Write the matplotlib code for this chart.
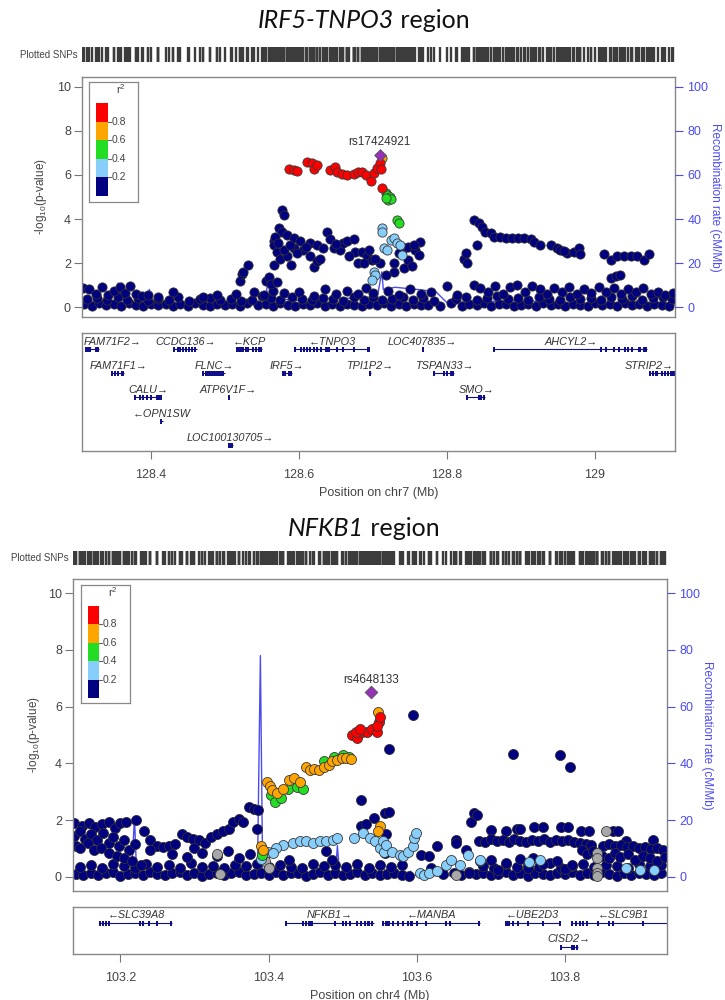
import matplotlib.pyplot as plt
from matplotlib.patches import Rectangle
import numpy as np

plt.rcParams['font.family'] = ['Liberation Sans', 'DejaVu Sans']
plt.rcParams['mathtext.fontset'] = 'custom'
plt.rcParams['mathtext.rm'] = 'Liberation Sans'
plt.rcParams['mathtext.it'] = 'Liberation Sans:italic'

W, H = 725, 1000

NAVY = '#000080'
LBLUE = '#87CEFA'
GREEN = '#22DD22'
ORANGE = '#FFA500'
RED = '#FF0000'
GRAY = '#A8A8A8'
LEAD = '#9632B8'
BLUE = '#4B4BF0'
GENE = '#10108A'
TXT = '#444444'

# ---------------- IRF5-TNPO3 (chr7) ----------------
top_xlim = (128.307, 129.108)

top_base = [
    (128.310, 0.12), (128.320, 0.05), (128.330, 0.18), (128.340, 0.08), (128.350, 0.15),
    (128.360, 0.04), (128.370, 0.20), (128.380, 0.10), (128.390, 0.06), (128.400, 0.16),
    (128.410, 0.09), (128.420, 0.14), (128.430, 0.03), (128.440, 0.12), (128.450, 0.07),
    (128.460, 0.19), (128.470, 0.10), (128.480, 0.05), (128.490, 0.15), (128.500, 0.08),
    (128.510, 0.12), (128.520, 0.04), (128.530, 0.17), (128.545, 0.09), (128.555, 0.13),
    (128.565, 0.06), (128.575, 0.20), (128.585, 0.10), (128.595, 0.05), (128.605, 0.15),
    (128.615, 0.08), (128.625, 0.18), (128.635, 0.04), (128.645, 0.12), (128.655, 0.07),
    (128.665, 0.16), (128.675, 0.10), (128.685, 0.05), (128.695, 0.14), (128.705, 0.09),
    (128.715, 0.19), (128.725, 0.06), (128.735, 0.12), (128.745, 0.03), (128.755, 0.15),
    (128.765, 0.08), (128.775, 0.11), (128.790, 0.06), (128.805, 0.17), (128.820, 0.04),
    (128.830, 0.13), (128.840, 0.09), (128.850, 0.18), (128.860, 0.05), (128.870, 0.12),
    (128.880, 0.16), (128.890, 0.07), (128.900, 0.10), (128.910, 0.14), (128.920, 0.04),
    (128.930, 0.19), (128.940, 0.08), (128.950, 0.12), (128.960, 0.06), (128.970, 0.15),
    (128.980, 0.10), (128.990, 0.03), (129.000, 0.17), (129.010, 0.09), (129.020, 0.13),
    (129.030, 0.05), (129.040, 0.18), (129.050, 0.08), (129.060, 0.12), (129.070, 0.06),
    (129.080, 0.15), (129.090, 0.10), (129.100, 0.04),
    (128.314, 0.35), (128.327, 0.42), (128.341, 0.30), (128.355, 0.48), (128.368, 0.33),
    (128.382, 0.40), (128.396, 0.27), (128.410, 0.38), (128.424, 0.31), (128.437, 0.45),
    (128.452, 0.28), (128.466, 0.36), (128.480, 0.43), (128.494, 0.30), (128.508, 0.38),
    (128.522, 0.26), (128.536, 0.34), (128.550, 0.50), (128.562, 0.40), (128.575, 0.32),
    (128.590, 0.46), (128.604, 0.35), (128.618, 0.30), (128.632, 0.42), (128.646, 0.37),
    (128.660, 0.28), (128.674, 0.44), (128.688, 0.33), (128.700, 0.48), (128.712, 0.30),
    (128.726, 0.38), (128.740, 0.45), (128.754, 0.32), (128.768, 0.40), (128.782, 0.28),
    (128.812, 0.36), (128.826, 0.47), (128.840, 0.33), (128.854, 0.41), (128.868, 0.50),
    (128.882, 0.35), (128.896, 0.43), (128.910, 0.30), (128.924, 0.46), (128.938, 0.38),
    (128.952, 0.32), (128.966, 0.48), (128.980, 0.36), (128.994, 0.42), (129.008, 0.30),
    (129.022, 0.45), (129.036, 0.37), (129.050, 0.50), (129.064, 0.33), (129.078, 0.40),
    (129.092, 0.46), (129.104, 0.35),
    (128.309, 0.85), (128.317, 0.82), (128.326, 0.60), (128.334, 0.90), (128.342, 0.55),
    (128.350, 0.72), (128.358, 0.92), (128.365, 0.65), (128.372, 0.95), (128.380, 0.60),
    (128.388, 0.50), (128.396, 0.55), (128.410, 0.45), (128.430, 0.70), (128.470, 0.45),
    (128.490, 0.55), (128.515, 0.60), (128.540, 0.70), (128.553, 0.55), (128.565, 0.75),
    (128.580, 0.65), (128.600, 0.70), (128.620, 0.50), (128.635, 0.80), (128.650, 0.60),
    (128.665, 0.75), (128.680, 0.60), (128.690, 0.85), (128.700, 0.65), (128.720, 0.75),
    (128.735, 0.55), (128.750, 0.80), (128.765, 0.60), (128.778, 0.70), (128.800, 0.95),
    (128.814, 0.55), (128.836, 1.00), (128.845, 0.85), (128.855, 0.70), (128.865, 0.95),
    (128.875, 0.60), (128.885, 0.90), (128.895, 1.00), (128.905, 0.70), (128.915, 0.95),
    (128.925, 0.80), (128.935, 0.60), (128.945, 0.85), (128.955, 0.70), (128.965, 0.90),
    (128.975, 0.60), (128.985, 0.80), (128.995, 0.65), (129.005, 0.90), (129.015, 0.70),
    (129.025, 0.85), (129.035, 0.60), (129.045, 0.80), (129.055, 0.70), (129.065, 0.85),
    (129.075, 0.60), (129.085, 0.70), (129.095, 0.55), (129.105, 0.65),
]

top_navy = [
    (128.5205, 1.2), (128.523, 1.5), (128.524, 1.6), (128.531, 1.9), (128.556, 1.2),
    (128.559, 1.38), (128.562, 1.07), (128.570, 1.15), (128.567, 1.9), (128.577, 4.4),
    (128.580, 4.18), (128.573, 3.57), (128.577, 3.42), (128.566, 3.0), (128.566, 2.8),
    (128.570, 2.5), (128.575, 2.2), (128.584, 2.3), (128.589, 1.9), (128.584, 3.27),
    (128.593, 3.12), (128.602, 3.0), (128.593, 2.7), (128.606, 2.6), (128.615, 2.3),
    (128.620, 1.84), (128.624, 2.1), (128.629, 2.2), (128.615, 2.9), (128.624, 2.8),
    (128.633, 2.7), (128.638, 3.42), (128.642, 3.1), (128.647, 2.7), (128.656, 2.6),
    (128.660, 2.9), (128.665, 3.0), (128.674, 3.1), (128.676, 2.5), (128.680, 2.0),
    (128.568, 3.2), (128.572, 2.9), (128.580, 2.6), (128.588, 2.8), (128.597, 2.45),
    (128.610, 2.75), (128.650, 2.85), (128.668, 2.3),
    (128.685, 2.5), (128.692, 2.3), (128.699, 2.14), (128.688, 2.0), (128.710, 1.99),
    (128.728, 1.6), (128.742, 1.76), (128.748, 2.14), (128.753, 1.85), (128.742, 2.67),
    (128.748, 2.74), (128.757, 2.6), (128.762, 2.36), (128.764, 2.97), (128.755, 2.8),
    (128.717, 1.45), (128.728, 2.0), (128.695, 2.6), (128.703, 2.2), (128.735, 2.45),
    (128.823, 2.2), (128.827, 1.99), (128.826, 2.45),
    (128.836, 3.95), (128.843, 3.8), (128.847, 3.65), (128.841, 2.8), (128.852, 3.42),
    (128.859, 3.35), (128.863, 3.2), (128.872, 3.2), (128.880, 3.15), (128.888, 3.15),
    (128.896, 3.15), (128.904, 3.15), (128.913, 3.1), (128.917, 2.97), (128.926, 2.8),
    (128.940, 2.8), (128.949, 2.7), (128.953, 2.6), (128.962, 2.45), (128.971, 2.5),
    (128.978, 2.67), (128.980, 2.4), (128.958, 2.55),
    (129.012, 2.4), (129.021, 2.14), (129.030, 2.3), (129.039, 2.3), (129.048, 2.3),
    (129.057, 2.3), (129.066, 2.14), (129.073, 2.4), (129.021, 1.31), (129.028, 1.4),
    (129.034, 1.45),
]

top_lblue = [
    (128.712, 3.58), (128.712, 3.43), (128.715, 2.67), (128.719, 2.59), (128.724, 3.05),
    (128.728, 3.12), (128.733, 2.9), (128.737, 2.82), (128.739, 2.36), (128.701, 1.6),
    (128.703, 1.45), (128.699, 1.22),
]
top_green = [
    (128.717, 5.17), (128.719, 5.09), (128.723, 5.01), (128.721, 4.86), (128.724, 4.91),
    (128.718, 4.94), (128.733, 3.95), (128.735, 3.8),
]
top_orange = [(128.712, 6.75)]
top_red = [
    (128.586, 6.27), (128.593, 6.23), (128.598, 6.18), (128.611, 6.61), (128.617, 6.53),
    (128.620, 6.27), (128.624, 6.45), (128.642, 6.23), (128.649, 6.38), (128.651, 6.12),
    (128.658, 6.03), (128.665, 6.0), (128.674, 6.03), (128.680, 6.12), (128.685, 6.15),
    (128.690, 6.0), (128.697, 5.73), (128.701, 6.07), (128.706, 6.3), (128.709, 6.53),
    (128.711, 6.27), (128.712, 5.4),
]
top_lead = (128.709, 6.91)
top_lead_name = 'rs17424921'

top_recomb = [
    (128.307, 2), (128.330, 3), (128.350, 2), (128.356, 11), (128.358, 5), (128.361, 11),
    (128.364, 2), (128.390, 2), (128.398, 8), (128.402, 2), (128.450, 1), (128.500, 1.5),
    (128.555, 2), (128.558, 13), (128.562, 4), (128.600, 3), (128.640, 4), (128.680, 4),
    (128.705, 3), (128.712, 16), (128.714, 8), (128.730, 9), (128.760, 8), (128.785, 7),
    (128.800, 2), (128.850, 2.5), (128.900, 3), (128.950, 2), (129.000, 1.5), (129.050, 1),
    (129.108, 1),
]

top_gene_names = ['FAM71F2', 'CCDC136', 'KCP', 'TNPO3', 'LOC407835', 'AHCYL2',
                  'FAM71F1', 'FLNC', 'IRF5', 'TPI1P2', 'TSPAN33', 'STRIP2',
                  'CALU', 'ATP6V1F', 'SMO', 'OPN1SW', 'LOC100130705']
top_gene_start = [128.312, 128.431, 128.516, 128.594, 128.766, 128.864,
                  128.348, 128.471, 128.578, 128.695, 128.783, 129.073,
                  128.379, 128.504, 128.827, 128.413, 128.504]
top_gene_end = [128.330, 128.462, 128.550, 128.695, 128.768, 129.070,
                128.364, 128.500, 128.590, 128.697, 128.809, 129.110,
                128.414, 128.506, 128.852, 128.416, 128.511]
top_gene_strand = [1, 1, -1, -1, 1, 1, 1, 1, 1, 1, 1, 1, 1, 1, 1, -1, 1]
top_gene_row = [0, 0, 0, 0, 0, 0, 1, 1, 1, 1, 1, 1, 2, 2, 2, 3, 4]
top_exons = {
    'FAM71F2': [128.312, 128.315, 128.318, 128.326, 128.329],
    'CCDC136': [128.431, 128.437, 128.440, 128.444, 128.447, 128.451, 128.455, 128.460],
    'KCP': [128.516, 128.519, 128.522, 128.525, 128.528, 128.531, 128.538, 128.542, 128.546, 128.549],
    'TNPO3': [128.595, 128.603, 128.607, 128.611, 128.615, 128.620, 128.625, 128.630, 128.636,
              128.640, 128.652, 128.660, 128.675, 128.694],
    'LOC407835': [128.767],
    'AHCYL2': [128.864, 129.008, 129.015, 129.025, 129.032, 129.040, 129.045, 129.050, 129.060,
               129.066, 129.069],
    'FAM71F1': [128.348, 128.352, 128.356, 128.361, 128.363],
    'FLNC': [128.471, 128.474, 128.477, 128.480, 128.483, 128.486, 128.489, 128.492, 128.495, 128.498],
    'IRF5': [128.578, 128.581, 128.586, 128.589],
    'TPI1P2': [128.696],
    'TSPAN33': [128.783, 128.796, 128.800, 128.806, 128.808],
    'STRIP2': [129.074, 129.078, 129.083, 129.090, 129.094, 129.098, 129.102, 129.106],
    'CALU': [128.379, 128.385, 128.390, 128.395, 128.400, 128.409, 128.413],
    'ATP6V1F': [128.505],
    'SMO': [128.827, 128.843, 128.846, 128.850],
    'OPN1SW': [128.414],
    'LOC100130705': [128.505, 128.508, 128.510],
}
top_xticks = [128.4, 128.6, 128.8, 129.0]
top_xticklabels = ['128.4', '128.6', '128.8', '129']

# ---------------- NFKB1 (chr4) ----------------
bot_xlim = (103.136, 103.938)

bot_base = [
    (103.140, 0.10), (103.150, 0.05), (103.160, 0.15), (103.170, 0.08), (103.180, 0.12),
    (103.190, 0.18), (103.200, 0.04), (103.210, 0.10), (103.220, 0.14), (103.230, 0.07),
    (103.240, 0.16), (103.250, 0.09), (103.260, 0.05), (103.270, 0.12), (103.280, 0.18),
    (103.290, 0.08), (103.300, 0.13), (103.310, 0.04), (103.320, 0.10), (103.330, 0.15),
    (103.340, 0.07), (103.350, 0.12), (103.360, 0.17), (103.370, 0.05), (103.380, 0.10),
    (103.390, 0.14), (103.400, 0.08), (103.410, 0.18), (103.420, 0.06), (103.430, 0.12),
    (103.440, 0.15), (103.450, 0.04), (103.460, 0.10), (103.470, 0.16), (103.480, 0.08),
    (103.490, 0.13), (103.500, 0.05), (103.510, 0.11), (103.520, 0.17), (103.530, 0.07),
    (103.540, 0.12), (103.550, 0.05), (103.560, 0.10), (103.570, 0.15), (103.580, 0.08),
    (103.590, 0.04), (103.650, 0.12), (103.660, 0.06), (103.670, 0.16), (103.680, 0.09),
    (103.690, 0.13), (103.700, 0.05), (103.710, 0.10), (103.720, 0.17), (103.730, 0.08),
    (103.740, 0.12), (103.750, 0.04), (103.760, 0.15), (103.770, 0.10), (103.780, 0.06),
    (103.790, 0.14), (103.800, 0.09), (103.810, 0.18), (103.820, 0.05), (103.830, 0.12),
    (103.840, 0.08), (103.850, 0.16), (103.860, 0.10), (103.870, 0.04), (103.880, 0.13),
    (103.890, 0.07), (103.900, 0.15), (103.910, 0.10), (103.920, 0.05), (103.930, 0.12),
    (103.145, 0.35), (103.160, 0.42), (103.175, 0.30), (103.190, 0.46), (103.205, 0.38),
    (103.220, 0.32), (103.235, 0.44), (103.250, 0.36), (103.265, 0.40), (103.280, 0.30),
    (103.295, 0.47), (103.310, 0.34), (103.325, 0.39), (103.340, 0.31), (103.355, 0.43),
    (103.370, 0.37), (103.385, 0.45), (103.400, 0.33), (103.415, 0.40), (103.430, 0.36),
    (103.445, 0.30), (103.460, 0.44), (103.475, 0.38), (103.490, 0.42), (103.505, 0.34),
    (103.520, 0.46), (103.535, 0.32), (103.550, 0.40), (103.565, 0.35), (103.580, 0.43),
    (103.690, 0.38), (103.705, 0.31), (103.720, 0.45), (103.735, 0.36), (103.750, 0.41),
    (103.765, 0.33), (103.780, 0.47), (103.795, 0.30), (103.810, 0.39), (103.825, 0.44),
    (103.840, 0.35), (103.855, 0.42), (103.870, 0.37), (103.885, 0.32), (103.900, 0.46),
    (103.915, 0.38), (103.930, 0.40),
]

bot_navy = [
    (103.138, 1.88), (103.148, 1.80), (103.158, 1.90), (103.166, 1.75), (103.175, 1.85),
    (103.185, 1.92), (103.193, 1.72), (103.200, 1.88), (103.207, 1.95), (103.221, 2.00),
    (103.138, 1.45), (103.145, 1.60), (103.152, 1.35), (103.160, 1.50), (103.168, 1.30),
    (103.176, 1.55), (103.184, 1.20), (103.190, 1.40), (103.198, 1.10), (103.205, 1.30),
    (103.212, 0.95), (103.220, 1.15),
    (103.140, 1.10), (103.146, 1.00), (103.156, 1.20), (103.165, 0.95), (103.174, 1.00),
    (103.185, 0.85), (103.195, 0.75), (103.205, 0.65), (103.215, 0.55), (103.228, 0.40),
    (103.232, 1.60), (103.240, 1.30), (103.250, 1.10), (103.258, 1.05), (103.266, 1.10),
    (103.274, 1.15), (103.283, 1.50), (103.290, 1.40), (103.298, 1.35), (103.306, 1.30),
    (103.314, 1.20), (103.322, 1.40), (103.330, 1.50), (103.338, 1.60), (103.346, 1.70),
    (103.352, 1.95), (103.360, 2.05), (103.366, 1.95), (103.374, 2.45), (103.380, 2.40),
    (103.386, 2.35), (103.385, 1.70),
    (103.270, 0.80), (103.290, 0.70), (103.310, 0.85), (103.330, 0.75), (103.345, 0.90),
    (103.360, 0.65), (103.375, 0.80), (103.240, 0.95), (103.300, 1.00),
    (103.428, 0.60), (103.478, 0.90), (103.486, 0.60), (103.525, 2.70), (103.525, 1.80),
    (103.532, 1.85), (103.543, 2.07), (103.557, 2.24),
    (103.563, 4.52), (103.563, 2.29), (103.558, 1.50), (103.557, 0.83), (103.595, 5.70),
    (103.606, 0.78), (103.617, 0.72), (103.628, 1.07), (103.653, 1.30), (103.653, 1.18),
    (103.667, 0.95), (103.673, 1.94), (103.678, 2.24), (103.682, 2.18),
    (103.700, 1.65), (103.721, 1.60), (103.735, 1.68), (103.740, 1.68), (103.759, 1.77),
    (103.770, 1.77), (103.795, 1.77), (103.804, 1.77), (103.822, 1.60), (103.833, 1.60),
    (103.865, 1.60), (103.872, 1.60), (103.883, 1.25), (103.919, 1.30),
    (103.730, 4.33), (103.793, 4.30), (103.807, 3.86),
    (103.684, 1.28), (103.692, 1.22), (103.700, 1.32), (103.708, 1.25), (103.716, 1.30),
    (103.724, 1.22), (103.732, 1.34), (103.740, 1.27), (103.748, 1.23), (103.756, 1.30),
    (103.764, 1.26), (103.772, 1.33), (103.780, 1.22), (103.788, 1.29), (103.796, 1.25),
    (103.804, 1.31), (103.812, 1.24), (103.820, 1.20), (103.828, 1.16), (103.836, 1.12),
    (103.852, 1.08), (103.860, 1.14), (103.868, 1.10), (103.876, 1.12), (103.884, 1.06),
    (103.892, 1.10), (103.900, 1.00), (103.908, 1.05), (103.916, 0.98), (103.924, 1.02),
    (103.932, 0.95),
    (103.823, 0.95), (103.830, 0.80), (103.838, 0.90), (103.850, 0.75), (103.860, 0.65),
    (103.868, 0.85), (103.875, 0.70), (103.885, 0.80), (103.895, 0.60), (103.905, 0.75),
    (103.915, 0.65), (103.925, 0.55), (103.935, 0.70),
    (103.685, 0.55), (103.700, 0.60), (103.710, 0.25), (103.720, 0.50), (103.740, 0.62),
    (103.750, 0.30), (103.757, 0.68), (103.770, 0.45), (103.790, 0.55), (103.800, 0.28),
    (103.810, 0.42), (103.620, 0.30), (103.635, 0.10), (103.670, 0.15),
]

bot_gray = [
    (103.844, 0.85), (103.844, 0.65), (103.844, 0.30), (103.844, 0.15), (103.844, 0.02),
    (103.856, 1.60), (103.653, 0.05), (103.330, 0.80), (103.335, 0.10), (103.395, 0.55),
    (103.400, 0.30),
]
bot_lblue = [
    (103.390, 0.62), (103.399, 0.89), (103.420, 1.13), (103.433, 1.19), (103.442, 1.25),
    (103.451, 1.25), (103.460, 1.19), (103.469, 1.25), (103.478, 1.25), (103.487, 1.31),
    (103.492, 1.36), (103.410, 1.00), (103.406, 0.83), (103.515, 1.36), (103.528, 1.53),
    (103.537, 1.36), (103.544, 1.25), (103.551, 1.00), (103.556, 0.89),
    (103.554, 1.25), (103.558, 1.13), (103.567, 0.89), (103.577, 0.78), (103.581, 0.72),
    (103.588, 0.89), (103.595, 1.07), (103.597, 1.36), (103.599, 1.53), (103.604, 0.13),
    (103.610, 0.07), (103.617, 0.13), (103.628, 0.19), (103.640, 0.42), (103.646, 0.60),
    (103.658, 0.42), (103.669, 0.78), (103.685, 0.60), (103.752, 0.54), (103.766, 0.60),
    (103.883, 0.31), (103.901, 0.25), (103.921, 0.25),
]
bot_green = [
    (103.403, 2.88), (103.409, 2.65), (103.417, 2.77), (103.426, 3.11), (103.438, 3.17),
    (103.446, 3.11), (103.475, 4.09), (103.489, 4.24), (103.500, 4.30), (103.509, 4.24),
    (103.391, 0.78),
]
bot_orange = [
    (103.3985, 3.36), (103.4016, 3.21), (103.405, 3.06), (103.412, 2.94), (103.420, 3.11),
    (103.428, 3.41), (103.434, 3.47), (103.443, 3.36), (103.450, 3.86), (103.456, 3.78),
    (103.461, 3.81), (103.468, 3.78), (103.475, 3.86), (103.482, 3.95), (103.486, 4.07),
    (103.493, 4.13), (103.499, 4.19), (103.505, 4.20), (103.512, 4.16), (103.548, 5.80),
    (103.390, 1.10), (103.393, 0.95), (103.550, 1.80), (103.548, 1.60),
]
bot_red = [
    (103.513, 5.00), (103.520, 4.90), (103.526, 5.12), (103.533, 5.10), (103.540, 5.21),
    (103.546, 5.12), (103.549, 5.46), (103.550, 5.64), (103.547, 5.30), (103.518, 5.12),
    (103.524, 5.22),
]
bot_lead = (103.538, 6.5)
bot_lead_name = 'rs4648133'

bot_recomb = [
    (103.136, 0.5), (103.180, 0.8), (103.215, 0.5), (103.219, 21), (103.222, 0.5),
    (103.300, 0.3), (103.385, 0.5), (103.389, 78), (103.392, 2), (103.420, 0.5),
    (103.490, 0.5), (103.493, 11), (103.496, 0.5), (103.548, 0.5), (103.549, 3),
    (103.556, 3), (103.557, 0.5), (103.590, 0.5), (103.592, 2), (103.594, 0.5),
    (103.700, 0.3), (103.800, 0.3), (103.938, 0.3),
]

bot_gene_names = ['SLC39A8', 'NFKB1', 'MANBA', 'UBE2D3', 'SLC9B1', 'CISD2']
bot_gene_start = [103.173, 103.424, 103.554, 103.719, 103.809, 103.794]
bot_gene_end = [103.269, 103.542, 103.685, 103.794, 103.950, 103.818]
bot_gene_strand = [-1, 1, -1, -1, -1, 1]
bot_gene_row = [0, 0, 0, 0, 0, 1]
bot_exons = {
    'SLC39A8': [103.173, 103.177, 103.181, 103.185, 103.226, 103.230, 103.238, 103.250, 103.268],
    'NFKB1': [103.424, 103.447, 103.450, 103.455, 103.458, 103.490, 103.500, 103.505, 103.510,
              103.520, 103.525, 103.530, 103.535, 103.540],
    'MANBA': [103.555, 103.558, 103.562, 103.568, 103.575, 103.582, 103.588, 103.593, 103.600,
              103.612, 103.640, 103.645, 103.684],
    'UBE2D3': [103.720, 103.722, 103.725, 103.730, 103.737, 103.750, 103.770, 103.793],
    'SLC9B1': [103.810, 103.815, 103.820, 103.825, 103.830, 103.845, 103.860, 103.865, 103.905],
    'CISD2': [103.795, 103.810, 103.813, 103.816],
}
bot_xticks = [103.2, 103.4, 103.6, 103.8]
bot_xticklabels = ['103.2', '103.4', '103.6', '103.8']

r2_colors = [NAVY, LBLUE, GREEN, ORANGE, RED]
r2_labels = ['0.2', '0.4', '0.6', '0.8']

fig = plt.figure(figsize=(W / 100, H / 100), dpi=100)


def px_axes(l, t, r, b):
    return fig.add_axes([l / W, 1 - b / H, (r - l) / W, (b - t) / H])


def xy(pairs):
    a = np.array(pairs, dtype=float)
    return a[:, 0], a[:, 1]


def title(yc, ital, rest):
    t1 = fig.text(0, 1 - yc / H, ital, fontstyle='italic', fontsize=18,
                  family=['Lato', 'DejaVu Sans'], va='center', color='#111111')
    t2 = fig.text(0, 1 - yc / H, rest, fontsize=18,
                  family=['Lato', 'DejaVu Sans'], va='center', color='#111111')
    fig.canvas.draw()
    r = fig.canvas.get_renderer()
    w1 = t1.get_window_extent(r).width
    w2 = t2.get_window_extent(r).width
    x0 = 364 - (w1 + w2) / 2
    t1.set_x(x0 / W)
    t2.set_x((x0 + w1) / W)


def snp_bar(l, r, t, b, xlim, groups):
    ax = px_axes(l, t, r, b)
    pos = np.concatenate([xy(g)[0] for g in groups])
    ax.vlines(pos, 0, 1, color='#3c3c3c', lw=1.7)
    ax.set_xlim(xlim)
    ax.set_ylim(0, 1)
    ax.axis('off')
    fig.text((l - 4) / W, 1 - (t + b) / 2 / H, 'Plotted SNPs', ha='right', va='center',
             fontsize=7, color=TXT)


def legend(l, t, r, b, bl, br, bt, bb):
    ax = px_axes(l, t, r, b)
    ax.set_xlim(l, r)
    ax.set_ylim(b, t)
    ax.set_xticks([])
    ax.set_yticks([])
    for s in ax.spines.values():
        s.set_color('#888888')
        s.set_linewidth(0.9)
    h = (bb - bt) / 5
    for i, c in enumerate(r2_colors):
        ax.add_patch(Rectangle((bl, bb - (i + 1) * h), br - bl, h, color=c, lw=0))
    for k, lab in enumerate(r2_labels[::-1]):
        yy = bt + (k + 1) * h
        ax.plot([br, br + 3], [yy, yy], color='#666666', lw=0.8)
        ax.text(br + 4, yy, lab, ha='left', va='center', fontsize=7.5, color=TXT)
    ax.text((bl + r) / 2 + 4, t + 7, 'r$^2$', ha='center', va='center', fontsize=8, color=TXT)


def main_panel(box, xlim, ylim, base, groups, lead, lead_name, recomb, ms, ylab_pad):
    ax = px_axes(*box)
    ax.set_xlim(xlim)
    ax.set_ylim(ylim)
    rp, rr = xy(recomb)
    ax.plot(rp, rr / 10.0, color=BLUE, lw=1.0, zorder=1)
    bx, by = xy(base)
    ax.scatter(bx, by, s=ms, c=NAVY, edgecolors='#303030', linewidths=0.6, zorder=2)
    for color, pairs in groups:
        px, py = xy(pairs)
        ax.scatter(px, py, s=ms, c=color, edgecolors='#3a3a3a', linewidths=0.6, zorder=3)
    ax.scatter([lead[0]], [lead[1]], marker='D', s=ms * 0.8, c=LEAD,
               edgecolors='#555555', linewidths=0.6, zorder=4)
    ax.annotate(lead_name, lead, xytext=(0, 9), textcoords='offset points',
                ha='center', va='center', fontsize=8.5, color='#333333')
    for s in ax.spines.values():
        s.set_color('#888888')
        s.set_linewidth(1.0)
    ax.set_xticks([])
    ax.set_yticks([0, 2, 4, 6, 8, 10])
    ax.tick_params(axis='y', length=6, width=0.8, color='#777777', labelcolor=TXT,
                   labelsize=9, pad=2)
    ax.set_ylabel(r'-log$_{10}$(p-value)', fontsize=8.5, color=TXT, labelpad=ylab_pad)
    ax2 = ax.twinx()
    ax2.set_ylim(ylim[0] * 10, ylim[1] * 10)
    ax2.set_yticks([0, 20, 40, 60, 80, 100])
    for s in ax2.spines.values():
        s.set_visible(False)
    ax2.tick_params(axis='y', length=6, width=0.8, color=BLUE, labelcolor=BLUE,
                    labelsize=9, pad=3)
    ax2.set_ylabel('Recombination rate (cM/Mb)', rotation=270, color=BLUE,
                   fontsize=8.5, labelpad=9)
    return ax


def gene_panel(box, xlim, names, starts, ends, strands, rows, exons, xticks, xticklabels, xlabel):
    ax = px_axes(*box)
    ax.set_xlim(xlim)
    ax.set_ylim(box[3] - box[1], 0)
    for s in ax.spines.values():
        s.set_color('#888888')
        s.set_linewidth(1.0)
    ax.set_yticks([])
    ax.set_xticks(xticks)
    ax.set_xticklabels(xticklabels)
    ax.tick_params(axis='x', length=6, width=0.8, color='#777777', labelcolor=TXT,
                   labelsize=9, pad=7)
    ax.set_xlabel(xlabel, fontsize=9, color=TXT, labelpad=4)
    texts = []
    for name, s0, e0, st, row in zip(names, starts, ends, strands, rows):
        yb = 16 + 24 * row
        ax.plot([s0, e0], [yb, yb], color=GENE, lw=0.8, solid_capstyle='butt')
        for ex in exons[name]:
            ax.add_patch(Rectangle((ex - 0.0014, yb - 2.5), 0.0028, 5, color=GENE, lw=0))
        label = name + '\u2192' if st > 0 else '\u2190' + name
        t = ax.text((s0 + e0) / 2, yb - 7.5, label, ha='center', va='center',
                    fontstyle='italic', fontsize=7.8, color='#333333')
        texts.append(t)
    return ax, texts


def clamp_labels(ax, texts):
    r = fig.canvas.get_renderer()
    abb = ax.get_window_extent(r)
    xl = ax.get_xlim()
    per_px = (xl[1] - xl[0]) / abb.width
    for t in texts:
        bb = t.get_window_extent(r)
        x, y = t.get_position()
        if bb.x0 < abb.x0 + 2:
            t.set_position((x + (abb.x0 + 2 - bb.x0) * per_px, y))
        elif bb.x1 > abb.x1 - 1:
            t.set_position((x - (bb.x1 - abb.x1 + 1) * per_px, y))


# top figure
title(20, 'IRF5-TNPO3', ' region')
top_groups = [(LBLUE, top_lblue), (GREEN, top_green), (ORANGE, top_orange), (RED, top_red)]
snp_bar(82, 675, 47, 62, top_xlim, [top_base, top_navy] + [g for _, g in top_groups])
top_ax = main_panel((82, 77, 675, 317), top_xlim, (-0.45, 10.45),
                    top_base + top_navy, top_groups, top_lead, top_lead_name,
                    top_recomb, 44, 6)
legend(89, 82, 138, 202, 96, 108, 103, 196)
tg_ax, tg_texts = gene_panel((82, 333, 675, 451), top_xlim, top_gene_names, top_gene_start,
                             top_gene_end, top_gene_strand, top_gene_row, top_exons,
                             top_xticks, top_xticklabels, 'Position on chr7 (Mb)')

# bottom figure
title(528, 'NFKB1', ' region')
bot_groups = [(GRAY, bot_gray), (LBLUE, bot_lblue), (GREEN, bot_green),
              (ORANGE, bot_orange), (RED, bot_red)]
snp_bar(73, 667, 551, 565, bot_xlim, [bot_base, bot_navy] + [g for _, g in bot_groups])
bot_ax = main_panel((73, 579, 667, 891), bot_xlim, (-0.5, 10.5),
                    bot_base + bot_navy, bot_groups, bot_lead, bot_lead_name,
                    bot_recomb, 52, 4)
legend(81, 585, 130, 703, 88, 99, 606, 698)
bg_ax, bg_texts = gene_panel((73, 907, 667, 954), bot_xlim, bot_gene_names, bot_gene_start,
                             bot_gene_end, bot_gene_strand, bot_gene_row, bot_exons,
                             bot_xticks, bot_xticklabels, 'Position on chr4 (Mb)')

fig.canvas.draw()
clamp_labels(tg_ax, tg_texts)
clamp_labels(bg_ax, bg_texts)

fig.savefig('out.png', dpi=100, facecolor='white')
